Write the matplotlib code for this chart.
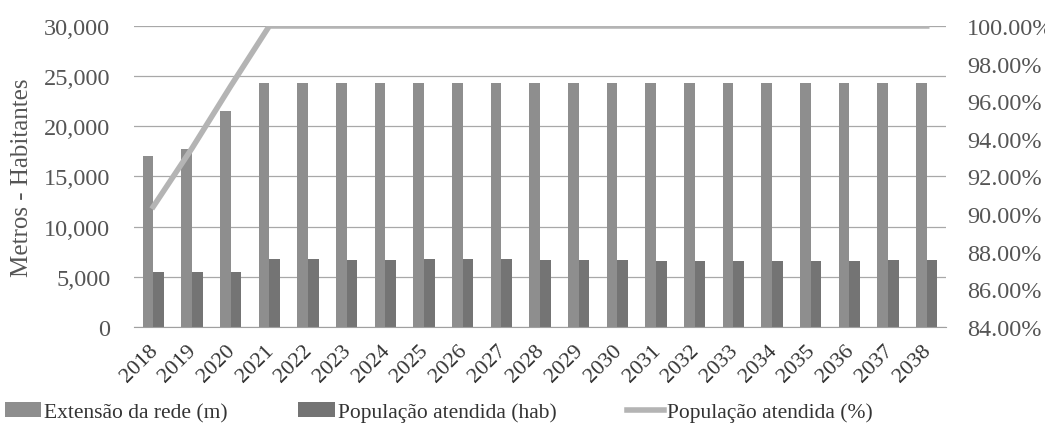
import numpy as np
import matplotlib
matplotlib.use("Agg")
import matplotlib.pyplot as plt
import matplotlib.transforms as mtransforms
from matplotlib.ticker import FuncFormatter

# dados do grafico
anos = [str(a) for a in range(2018, 2039)]
extensao_rede = [17000, 17700, 21500] + [24300] * 18
populacao_hab = [5450, 5450, 5450, 6760, 6760, 6720, 6720, 6760, 6760, 6760,
                 6700, 6650, 6640, 6620, 6620, 6620, 6620, 6620, 6620, 6650, 6700]
populacao_pct = [90.4, 93.5, 96.8] + [100.0] * 18

serif = ["Liberation Serif", "DejaVu Serif"]
plt.rcParams["font.family"] = serif

fig = plt.figure(figsize=(10.45, 4.27), dpi=100)
ax = fig.add_axes([0.1282, 0.2319, 0.7771, 0.7049])

x = np.arange(len(anos))
w = 0.276
b1 = ax.bar(x - w / 2, extensao_rede, w, color="#8e8e8e", zorder=2,
            label="Extensão da rede (m)")
b2 = ax.bar(x + w / 2, populacao_hab, w, color="#747474", zorder=2,
            label="População atendida (hab)")

ax.set_xlim(-0.5, len(anos) - 0.5)
ax.set_ylim(0, 30000)
ax.set_yticks(range(0, 30001, 5000))
ax.yaxis.set_major_formatter(FuncFormatter(lambda v, p: f"{int(v):,}"))
ax.grid(axis="y", color="#a8a8a8", lw=0.9, zorder=0)
for s in ["top", "left", "right"]:
    ax.spines[s].set_visible(False)
ax.spines["bottom"].set_color("#a0a0a0")
ax.tick_params(axis="both", length=0, labelsize=17.5, colors="#555555")
ax.tick_params(axis="y", pad=17)
ax.set_xticks(x)
ax.set_xticklabels(anos, rotation=45, ha="right", rotation_mode="anchor",
                   fontsize=16, color="#333333")
ax.tick_params(axis="x", pad=10)
shift = mtransforms.ScaledTranslation(-5 / 100, 0, fig.dpi_scale_trans)
for lab in ax.get_xticklabels():
    lab.set_transform(lab.get_transform() + shift)
ax.set_ylabel("Metros - Habitantes", fontsize=18, color="#555555", labelpad=8)

ax2 = ax.twinx()
ln, = ax2.plot(x, populacao_pct, color="#b4b4b4", lw=4, zorder=3,
               label="População atendida (%)")
ax2.set_ylim(84, 100)
ax2.set_yticks(np.arange(84, 100.1, 2))
ax2.yaxis.set_major_formatter(FuncFormatter(lambda v, p: f"{v:.2f}%"))
for s in ["top", "left", "right", "bottom"]:
    ax2.spines[s].set_visible(False)
ax2.tick_params(axis="y", length=0, labelsize=17.5, colors="#555555", pad=15)

leg = fig.legend(handles=[b1, b2, ln], loc="lower left", bbox_to_anchor=(-0.008, -0.022),
                 ncol=3, frameon=False, handlelength=1.7,
                 handletextpad=0.12, columnspacing=3.3, borderaxespad=0.2,
                 prop={"family": serif, "size": 15.5})
for t in leg.get_texts():
    t.set_color("#333333")

fig.savefig("out.png", dpi=100)
